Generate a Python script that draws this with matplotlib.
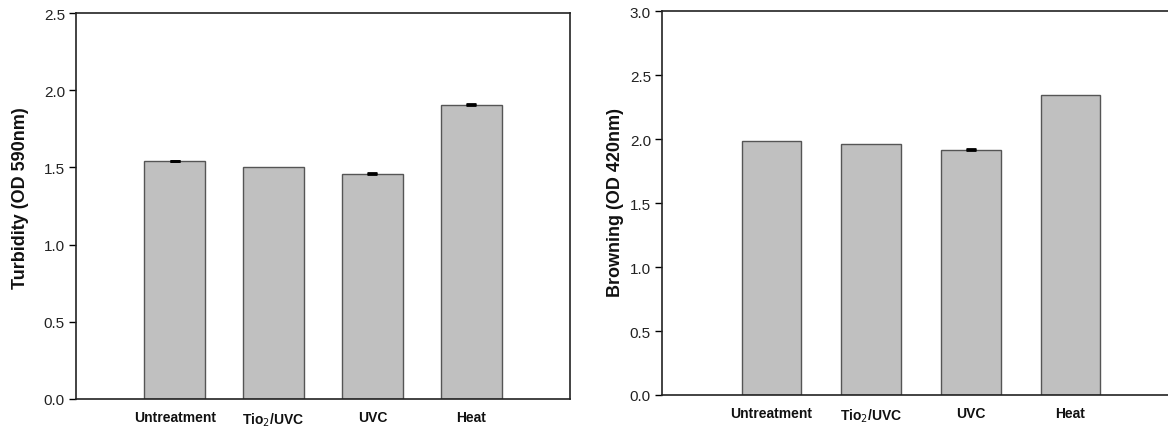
import matplotlib
matplotlib.use("Agg")
import matplotlib.pyplot as plt

plt.rcParams['font.family'] = ['Liberation Sans', 'DejaVu Sans']

categories = ["Untreatment", "Tio$_2$/UVC", "UVC", "Heat"]
turbidity = [1.539, 1.500, 1.459, 1.907]
turbidity_err = [0.005, 0.0, 0.005, 0.006]
browning = [1.987, 1.963, 1.912, 2.341]
browning_err = [0.0, 0.0, 0.008, 0.0]

W, H = 1168, 435
fig = plt.figure(figsize=(W / 100, H / 100), dpi=100)

def px_axes(x0, y_top, x1, y_bot):
    return fig.add_axes([x0 / W, 1 - y_bot / H, (x1 - x0) / W, (y_bot - y_top) / H])

def style(ax, vals, errs, ylim, yticks, ylabel, xlim, width, labelpad, label_y):
    xs = list(range(len(vals)))
    ax.bar(xs, vals, width=width, color='#c0c0c0', edgecolor='#555555', linewidth=1.0, zorder=2)
    ex = [x for x, e in zip(xs, errs) if e > 0]
    ey = [v for v, e in zip(vals, errs) if e > 0]
    ee = [e for e in errs if e > 0]
    if ex:
        ax.errorbar(ex, ey, yerr=[[0] * len(ee), ee], fmt='none', ecolor='black',
                    elinewidth=1.0, capsize=3.6, capthick=2.0, zorder=3)
    ax.set_xlim(*xlim)
    ax.set_ylim(*ylim)
    ax.set_yticks(yticks)
    ax.set_yticklabels([f"{t:.1f}" for t in yticks], fontsize=11, color='#222222')
    ax.set_xticks(xs)
    ax.set_xticklabels(categories, fontsize=10, fontweight='bold', color='#111111')
    ax.tick_params(axis='x', length=0, pad=8)
    ax.tick_params(axis='y', direction='out', length=5, width=1, pad=3)
    ax.set_ylabel(ylabel, fontsize=13, fontweight='bold', color='#111111', labelpad=labelpad)
    ax.yaxis.label.set_y(label_y)
    for s in ax.spines.values():
        s.set_linewidth(1.2)
        s.set_color('#222222')

ax1 = px_axes(76, 14, 570, 400)
style(ax1, turbidity, turbidity_err, (0, 2.5), [0, 0.5, 1.0, 1.5, 2.0, 2.5],
      "Turbidity (OD 590nm)", (-1.0, 4.0), 0.62, 10.5, 0.523)

ax2 = px_axes(662, 12, 1180, 396)
style(ax2, browning, browning_err, (0, 3.0), [0, 0.5, 1.0, 1.5, 2.0, 2.5, 3.0],
      "Browning (OD 420nm)", (-1.1, 4.1), 0.6, 4, 0.503)

fig.savefig("out.png", dpi=100)
